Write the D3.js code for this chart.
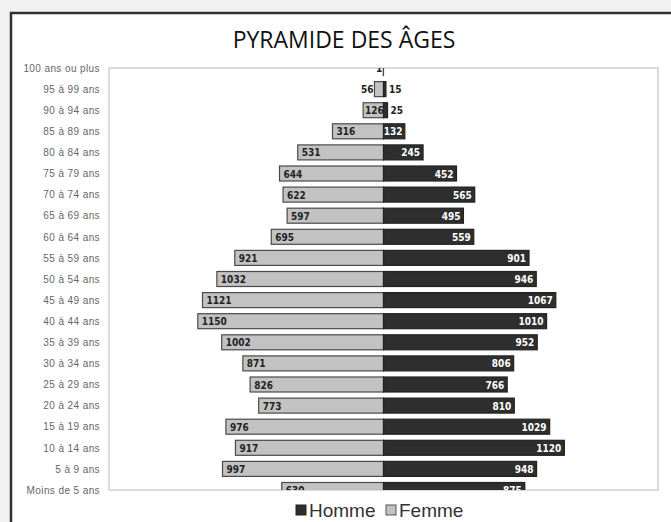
<!DOCTYPE html>
<html lang="fr">
<head>
<meta charset="UTF-8">
<title>Pyramide des âges</title>
<script src="https://d3js.org/d3.v7.min.js"></script>
<style>
    body { margin: 0; background: #f2f2f2; }
    svg { display: block; }
</style>
</head>
<body>
<div id="chart"></div>
<script>
    // Data (top to bottom)
    const ageGroups = ['100 ans ou plus', '95 à 99 ans', '90 à 94 ans', '85 à 89 ans', '80 à 84 ans',
        '75 à 79 ans', '70 à 74 ans', '65 à 69 ans', '60 à 64 ans', '55 à 59 ans', '50 à 54 ans',
        '45 à 49 ans', '40 à 44 ans', '35 à 39 ans', '30 à 34 ans', '25 à 29 ans', '20 à 24 ans',
        '15 à 19 ans', '10 à 14 ans', '5 à 9 ans', 'Moins de 5 ans'];
    const femme = [1, 56, 126, 316, 531, 644, 622, 597, 695, 921, 1032, 1121, 1150, 1002, 871, 826, 773, 976, 917, 997, 630];
    const homme = [0, 15, 25, 132, 245, 452, 565, 495, 559, 901, 946, 1067, 1010, 952, 806, 766, 810, 1029, 1120, 948, 875];
    const seriesNames = ['Homme', 'Femme'];

    const width = 671, height = 522;
    const plot = { left: 109, right: 658, top: 68, bottom: 490 };
    const barH = 15;

    const svg = d3.select('#chart').append('svg')
        .attr('width', width).attr('height', height);

    // frame
    svg.append('rect')
        .attr('x', 11).attr('y', 13)
        .attr('width', width + 10).attr('height', height + 10)
        .attr('fill', '#fff').attr('stroke', '#333').attr('stroke-width', 2.5);

    svg.append('text')
        .attr('x', 344).attr('y', 48)
        .attr('text-anchor', 'middle')
        .style('font', '23px "Open Sans", sans-serif')
        .attr('fill', '#111')
        .text('PYRAMIDE DES ÂGES');

    const x = d3.scaleLinear().domain([-1700, 1700]).range([plot.left, plot.right]);
    const y = d3.scalePoint().domain(ageGroups).range([plot.top, plot.bottom]);

    // plot area
    svg.append('rect')
        .attr('x', plot.left).attr('y', plot.top)
        .attr('width', plot.right - plot.left).attr('height', plot.bottom - plot.top)
        .attr('fill', 'none').attr('stroke', '#cfcfcf').attr('stroke-width', 1.5);

    svg.append('clipPath').attr('id', 'clip')
        .append('rect')
        .attr('x', plot.left).attr('y', plot.top)
        .attr('width', plot.right - plot.left).attr('height', plot.bottom - plot.top);

    // category axis labels
    const yAxis = svg.append('g')
        .attr('transform', `translate(${plot.left},0)`)
        .call(d3.axisLeft(y).tickSize(0).tickPadding(9));
    yAxis.select('.domain').remove();
    yAxis.selectAll('text')
        .style('font', '10px "Liberation Sans Narrow", "Liberation Sans", sans-serif')
        .style('letter-spacing', '0.4px')
        .attr('fill', '#666');

    const rows = ageGroups.map((g, i) => ({ g, f: femme[i], h: homme[i] }));
    const g = svg.append('g').attr('clip-path', 'url(#clip)');

    // Femme bars (left)
    g.selectAll('.femme').data(rows).join('rect')
        .attr('class', 'femme')
        .attr('x', d => x(-d.f)).attr('y', d => y(d.g) - barH / 2)
        .attr('width', d => x(0) - x(-d.f)).attr('height', barH)
        .attr('fill', '#c2c2c2').attr('stroke', '#4a4a4a').attr('stroke-width', 1.2);

    // Homme bars (right)
    g.selectAll('.homme').data(rows.filter(d => d.h > 0)).join('rect')
        .attr('class', 'homme')
        .attr('x', x(0)).attr('y', d => y(d.g) - barH / 2)
        .attr('width', d => x(d.h) - x(0)).attr('height', barH)
        .attr('fill', '#2e2e2e').attr('stroke', '#222').attr('stroke-width', 1.2);

    const labelFont = 'bold 10px "DejaVu Sans Condensed", "Liberation Sans Narrow", sans-serif';
    const charW = 5.6;

    g.selectAll('.lf').data(rows).join('text')
        .attr('class', 'lf')
        .attr('y', d => y(d.g) + 4)
        .style('font', labelFont)
        .attr('fill', '#222')
        .each(function (d) {
            const w = x(0) - x(-d.f);
            const tw = String(d.f).length * charW;
            const el = d3.select(this);
            if (tw < w) el.attr('x', x(-d.f) + Math.min(4, (w - tw) / 2)).attr('text-anchor', 'start');
            else el.attr('x', x(-d.f) - 1).attr('text-anchor', 'end');
        })
        .text(d => d.f);

    g.selectAll('.lh').data(rows.filter(d => d.h > 0)).join('text')
        .attr('class', 'lh')
        .attr('y', d => y(d.g) + 4)
        .style('font', labelFont)
        .each(function (d) {
            const w = x(d.h) - x(0);
            const tw = String(d.h).length * charW;
            const el = d3.select(this);
            if (tw < w) el.attr('x', x(d.h) - Math.min(3, (w - tw) / 2)).attr('text-anchor', 'end').attr('fill', '#fff');
            else el.attr('x', x(d.h) + 3).attr('text-anchor', 'start').attr('fill', '#222');
        })
        .text(d => d.h);

    // legend
    const legend = svg.append('g');
    const legendItems = [
        { name: seriesNames[0], x: 296, fill: '#2e2e2e', stroke: '#222' },
        { name: seriesNames[1], x: 386, fill: '#c2c2c2', stroke: '#555' }
    ];
    legendItems.forEach(it => {
        legend.append('rect')
            .attr('x', it.x).attr('y', 505)
            .attr('width', 10).attr('height', 10)
            .attr('fill', it.fill).attr('stroke', it.stroke);
        legend.append('text')
            .attr('x', it.x + 13).attr('y', 517)
            .style('font', '19px "Liberation Sans", Arial, sans-serif')
            .attr('fill', '#333')
            .text(it.name);
    });
</script>
</body>
</html>
